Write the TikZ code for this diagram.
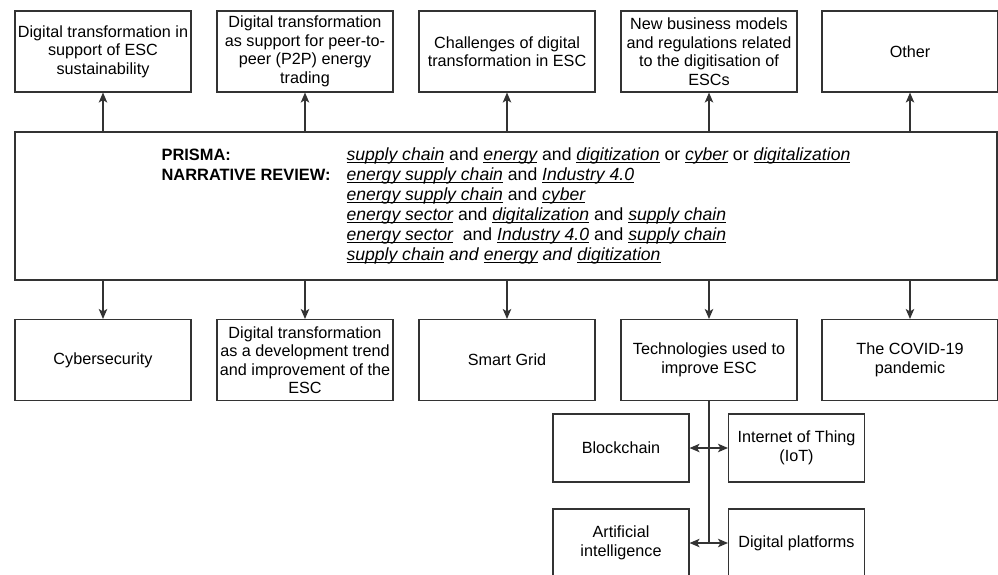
\documentclass[tikz,border=0pt]{standalone}
\usepackage{fontspec}
\usepackage{array}
\setmainfont{Liberation Sans}
\usetikzlibrary{arrows.meta, positioning}
\definecolor{edge}{HTML}{333333}

% underlined italic search term
\newcommand{\term}[1]{\setbox0\hbox{\itshape #1}\rlap{\rule[-2.4pt]{\wd0}{0.9pt}}\box0\relax}

\begin{document}
\begin{tikzpicture}[x=1pt, y=-1pt,
    topic/.style={draw=edge, line width=1.1pt, minimum width=176pt, minimum height=81pt, inner sep=0pt, align=center, font=\fontsize{16.2}{18.5}\selectfont},
    techbox/.style={topic, minimum width=136pt, minimum height=68pt},
    link/.style={draw=edge, line width=1.1pt, -{Stealth[length=10pt, width=8.5pt, inset=2.5pt]}},
    twoway/.style={link, {Stealth[length=10pt, width=8.5pt, inset=2.5pt]}-{Stealth[length=10pt, width=8.5pt, inset=2.5pt]}}]
    \useasboundingbox (0,0) rectangle (998,574);

    % Search strings
    \node[draw=edge, line width=2.2pt, minimum width=982pt, minimum height=148pt, inner sep=0pt,
          font=\fontsize{16.4}{20}\selectfont] (search) at (506,206) {%
        \begin{tabular}{@{}l@{\hspace{16pt}}>{\fontsize{17.6}{20}\selectfont}l@{}}
        \textbf{PRISMA:} & \term{supply chain} and \term{energy} and \term{digitization} or \term{cyber} or \term{digitalization}\\
        \textbf{NARRATIVE REVIEW:} & \term{energy supply chain} and \term{Industry 4.0}\\
        & \term{energy supply chain} and \term{cyber}\\
        & \term{energy sector} and \term{digitalization} and \term{supply chain}\\
        & \term{energy sector}\ \ and \term{Industry 4.0} and \term{supply chain}\\
        & \term{supply chain} \textit{and} \term{energy} \textit{and} \term{digitization}
        \end{tabular}};

    % Upper topics
    \node[topic] (up1) at (103,51.5) {Digital transformation in\\support of ESC\\sustainability};
    \node[topic] (up2) at (305,51.5) {Digital transformation\\as support for peer-to-\\peer (P2P) energy\\trading};
    \node[topic] (up3) at (507,51.5) {Challenges of digital\\transformation in ESC};
    \node[topic] (up4) at (709,51.5) {New business models\\and regulations related\\to the digitisation of\\ESCs};
    \node[topic] (up5) at (910,51.5) {Other};

    % Lower topics
    \node[topic] (lo1) at (103,360) {Cybersecurity};
    \node[topic] (lo2) at (305,360) {Digital transformation\\as a development trend\\and improvement of the\\ESC};
    \node[topic] (lo3) at (507,360) {Smart Grid};
    \node[topic] (lo4) at (709,360) {Technologies used to\\improve ESC};
    \node[topic] (lo5) at (910,360) {The COVID-19\\pandemic};

    % Technologies
    \node[techbox] (chain) at (621,448) {Blockchain};
    \node[techbox] (iot) at (796.5,448) {Internet of Thing\\(IoT)};
    \node[techbox] (ai) at (621,543) {Artificial\\intelligence};
    \node[techbox] (platf) at (796.5,543) {Digital platforms};

    % Arrows
    \foreach \n in {1,...,5} {
        \draw[link] (search.north -| up\n.south) -- (up\n.south);
        \draw[link] (search.south -| lo\n.north) -- (lo\n.north);
    }
    \coordinate (hub) at (lo4.south |- platf.west);
    \draw[draw=edge, line width=1.1pt] (lo4.south) -- (hub);
    \draw[twoway] (chain.east) -- (iot.west);
    \draw[twoway] (ai.east) -- (platf.west);
\end{tikzpicture}
\end{document}
